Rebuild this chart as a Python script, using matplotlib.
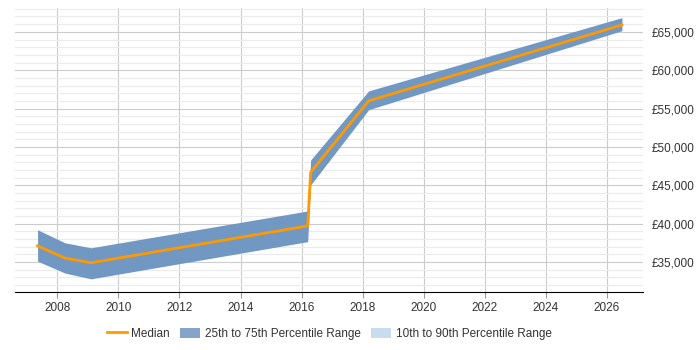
import numpy as np
import matplotlib.pyplot as plt
from matplotlib.ticker import FuncFormatter, MultipleLocator
from matplotlib.patches import Patch
from matplotlib.lines import Line2D

plt.rcParams['font.family'] = ['Liberation Sans', 'DejaVu Sans']

# 数据
years = [2007.35, 2008.25, 2009.1, 2016.2, 2016.3, 2018.2, 2026.5]
median = [37100, 35500, 34900, 39700, 46700, 56000, 65900]
p25 = [35100, 33550, 32800, 37650, 45050, 54850, 65150]
p75 = [39200, 37500, 36850, 41650, 48300, 57300, 66850]

fig = plt.figure(figsize=(7, 3.5), dpi=100)
ax = fig.add_axes([0.021, 0.166, 0.898, 0.811])

# 四分位区间和中位数
ax.fill_between(years, p25, p75, color='#7197c3', linewidth=0, zorder=2)
ax.plot(years, median, color='#ff9900', linewidth=2, zorder=3)

ax.set_xlim(2006.6, 2027.2)
ax.set_ylim(31100, 68100)

ax.xaxis.set_major_locator(MultipleLocator(2))
ax.yaxis.set_major_locator(MultipleLocator(5000))
ax.yaxis.set_minor_locator(MultipleLocator(1000))
ax.yaxis.set_major_formatter(FuncFormatter(lambda v, p: '£{:,.0f}'.format(v)))

ax.yaxis.tick_right()
ax.tick_params(axis='y', which='both', length=0, labelsize=8.5, colors='#333333', pad=6)
ax.tick_params(axis='x', length=4, color='#999999', labelsize=8.5, labelcolor='#333333')

ax.grid(axis='y', which='major', color='#cccccc', linewidth=0.8)
ax.grid(axis='y', which='minor', color='#ebebeb', linewidth=0.8)
ax.grid(axis='x', which='major', color='#cccccc', linewidth=0.8)
ax.set_axisbelow(True)

for s in ['left', 'right', 'top']:
    ax.spines[s].set_visible(False)
ax.spines['bottom'].set_color('#000000')

handles = [
    Line2D([0], [0], color='#ff9900', linewidth=2),
    Patch(facecolor='#86a4c9'),
    Patch(facecolor='#c9dbef'),
]
labels = ['Median', '25th to 75th Percentile Range', '10th to 90th Percentile Range']
fig.legend(handles, labels, loc='center', bbox_to_anchor=(0.47, 0.046), ncol=3,
           frameon=False, fontsize=8.5, handlelength=1.7, handleheight=1.0,
           handletextpad=0.4, columnspacing=0.85, labelcolor='#333333')

fig.savefig('out.png', dpi=100)
